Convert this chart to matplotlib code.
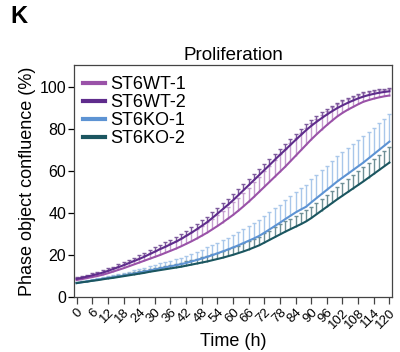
import numpy as np
import matplotlib
matplotlib.use("Agg")
import matplotlib.pyplot as plt

plt.rcParams['font.family'] = ['Liberation Sans', 'DejaVu Sans']

# time points (h), one measurement every 2 h
hours = np.arange(0, 121, 2)

# mean confluence (%)
wt1 = [8.0, 8.4, 8.9, 9.4, 9.9, 10.5, 11.2, 12.0, 12.8, 13.6,
       14.5, 15.4, 16.3, 17.2, 18.1, 19.0, 19.9, 20.9, 21.9, 22.9,
       24.0, 25.2, 26.4, 27.7, 29.1, 30.5, 32.1, 33.7, 35.4, 37.2,
       39.0, 41.0, 43.1, 45.3, 47.6, 50.0, 52.4, 54.8, 57.2, 59.6,
       62.0, 64.6, 67.2, 69.8, 72.4, 75.0, 77.4, 79.7, 81.9, 84.0,
       86.0, 87.7, 89.2, 90.5, 91.8, 93.0, 93.8, 94.5, 95.1, 95.6,
       96.0]
wt2 = [8.5, 9.0, 9.6, 10.2, 10.8, 11.5, 12.3, 13.2, 14.1, 15.0,
       16.0, 17.0, 18.0, 19.1, 20.3, 21.5, 22.7, 23.8, 25.0, 26.2,
       27.5, 29.0, 30.5, 32.1, 33.8, 35.5, 37.5, 39.6, 41.7, 43.8,
       46.0, 48.4, 50.8, 53.2, 55.6, 58.0, 60.4, 62.8, 65.3, 67.7,
       70.0, 72.4, 74.8, 77.1, 79.4, 81.5, 83.4, 85.2, 86.9, 88.5,
       90.0, 91.3, 92.5, 93.6, 94.6, 95.5, 96.2, 96.8, 97.3, 97.7,
       98.0]
ko1 = [6.5, 6.9, 7.3, 7.7, 8.1, 8.5, 8.9, 9.3, 9.7, 10.1,
       10.5, 11.0, 11.5, 12.0, 12.5, 13.0, 13.5, 14.0, 14.5, 15.0,
       15.5, 16.1, 16.8, 17.5, 18.2, 19.0, 19.8, 20.7, 21.6, 22.5,
       23.5, 24.5, 25.6, 26.7, 27.8, 29.0, 30.5, 32.1, 33.7, 35.3,
       37.0, 38.6, 40.2, 41.6, 42.9, 45.0, 47.0, 49.0, 51.0, 53.0,
       55.0, 56.8, 58.6, 60.4, 62.2, 64.0, 66.0, 68.0, 70.0, 72.0,
       74.0]
ko2 = [6.5, 6.9, 7.2, 7.6, 7.9, 8.3, 8.7, 9.0, 9.4, 9.8,
       10.2, 10.6, 11.0, 11.4, 11.9, 12.3, 12.7, 13.1, 13.5, 13.9,
       14.3, 14.8, 15.3, 15.8, 16.3, 16.8, 17.4, 18.0, 18.6, 19.3,
       20.0, 20.8, 21.6, 22.5, 23.5, 24.5, 25.8, 27.1, 28.4, 29.7,
       31.0, 32.2, 33.4, 34.6, 35.9, 37.5, 39.3, 41.1, 42.9, 44.7,
       46.5, 48.2, 49.9, 51.6, 53.3, 55.0, 56.8, 58.6, 60.4, 62.2,
       64.0]

# upper error bars
wt1_err = [0.8, 0.9, 1.0, 1.1, 1.2, 1.3, 1.4, 1.6, 1.7, 1.9,
           2.0, 2.2, 2.4, 2.6, 2.8, 3.0, 3.2, 3.4, 3.6, 3.8,
           4.0, 4.2, 4.4, 4.6, 4.8, 5.0, 5.2, 5.4, 5.6, 5.8,
           6.0, 6.3, 6.5, 6.8, 7.0, 7.3, 7.5, 7.8, 8.0, 8.3,
           8.5, 8.6, 8.6, 8.5, 8.3, 8.0, 7.6, 7.2, 6.8, 6.4,
           6.0, 5.6, 5.2, 4.8, 4.4, 4.0, 3.8, 3.6, 3.4, 3.2,
           3.0]
wt2_err = [0.8, 0.9, 0.9, 1.0, 1.0, 1.1, 1.2, 1.2, 1.3, 1.4,
           1.5, 1.6, 1.7, 1.8, 1.9, 2.0, 2.1, 2.2, 2.3, 2.4,
           2.5, 2.5, 2.6, 2.6, 2.7, 2.7, 2.8, 2.8, 2.9, 2.9,
           3.0, 3.0, 3.0, 3.0, 3.0, 3.0, 3.0, 3.0, 3.0, 3.0,
           3.0, 3.0, 3.0, 3.0, 2.9, 2.9, 2.8, 2.8, 2.7, 2.6,
           2.5, 2.4, 2.3, 2.2, 2.1, 2.0, 1.9, 1.8, 1.7, 1.6,
           1.5]
ko1_err = [0.5, 0.6, 0.7, 0.8, 0.9, 1.0, 1.1, 1.2, 1.3, 1.4,
           1.5, 1.6, 1.8, 1.9, 2.1, 2.2, 2.4, 2.5, 2.7, 2.8,
           3.0, 3.3, 3.6, 3.9, 4.2, 4.5, 4.8, 5.1, 5.4, 5.7,
           6.0, 6.3, 6.6, 6.9, 7.2, 7.5, 7.8, 8.1, 8.4, 8.7,
           9.0, 9.4, 9.8, 10.2, 10.6, 11.0, 11.2, 11.4, 11.6, 11.8,
           12.0, 12.1, 12.2, 12.3, 12.4, 12.5, 12.6, 12.7, 12.8, 12.9,
           13.0]
ko2_err = [0.3, 0.4, 0.4, 0.5, 0.6, 0.6, 0.7, 0.8, 0.8, 0.9,
           1.0, 1.1, 1.2, 1.3, 1.4, 1.5, 1.6, 1.7, 1.8, 1.9,
           2.0, 2.1, 2.3, 2.4, 2.6, 2.7, 2.9, 3.0, 3.2, 3.3,
           3.5, 3.6, 3.8, 3.9, 4.1, 4.2, 4.4, 4.5, 4.7, 4.8,
           5.0, 5.1, 5.2, 5.3, 5.4, 5.5, 5.6, 5.7, 5.8, 5.9,
           6.0, 6.2, 6.3, 6.5, 6.6, 6.8, 6.9, 7.1, 7.2, 7.4,
           7.5]

labels = ["ST6WT-1", "ST6WT-2", "ST6KO-1", "ST6KO-2"]
means = [wt1, wt2, ko1, ko2]
errs = [wt1_err, wt2_err, ko1_err, ko2_err]
# (line, error bar, cap)
styles = [("#9a52a8", "#c59fcf", "#8a4a98"),
          ("#5f2c8c", "#7d5a9c", "#3f2060"),
          ("#5d93d3", "#a9c7ea", "#6b9bd6"),
          ("#1b5660", "#6f8f96", "#1b4650")]

fig = plt.figure(figsize=(4.0, 3.52), dpi=100)
ax = fig.add_axes([0.185, 0.157, 0.795, 0.658])

for lab, m, e, (lc, ec, cc) in zip(labels, means, errs, styles):
    m = np.array(m)
    e = np.array(e)
    _, caps, bars = ax.errorbar(hours, m, yerr=[np.zeros_like(e), e], fmt="none",
                                ecolor=ec, elinewidth=1.0, capsize=1.6,
                                capthick=1.0, zorder=2)
    caps[0].set_visible(False)
    caps[1].set_color(cc)
    ax.plot(hours, m, color=lc, lw=1.5, label=lab, zorder=3)

ax.set_xlim(-1, 121)
ax.set_ylim(0, 110.5)
ax.set_yticks([0, 20, 40, 60, 80, 100])
ax.set_xticks(range(0, 121, 6))
ax.set_xticklabels([str(t) for t in range(0, 121, 6)], rotation=45,
                   ha="right", rotation_mode="anchor", fontsize=9.5)
ax.tick_params(axis="y", labelsize=11.5, length=4, width=0.9, pad=1.5)
ax.tick_params(axis="x", length=5, width=0.9, pad=2, color="#444444")
for sp in ax.spines.values():
    sp.set_linewidth(0.9)
    sp.set_color("#444444")

ax.set_xlabel("Time (h)", fontsize=13, labelpad=2)
ax.set_ylabel("Phase object confluence (%)", fontsize=13, labelpad=3)
ax.set_title("Proliferation", fontsize=13.5, pad=4)

ax.legend(loc="upper left", bbox_to_anchor=(0.0, 0.99), frameon=False,
          fontsize=13, handlelength=1.2, handletextpad=0.3,
          labelspacing=0.05, borderaxespad=0.3, borderpad=0.2)
for h in ax.get_legend().get_lines():
    h.set_linewidth(3)

fig.text(0.025, 0.935, "K", fontsize=17, fontweight="bold")

fig.savefig("out.png", dpi=100)
